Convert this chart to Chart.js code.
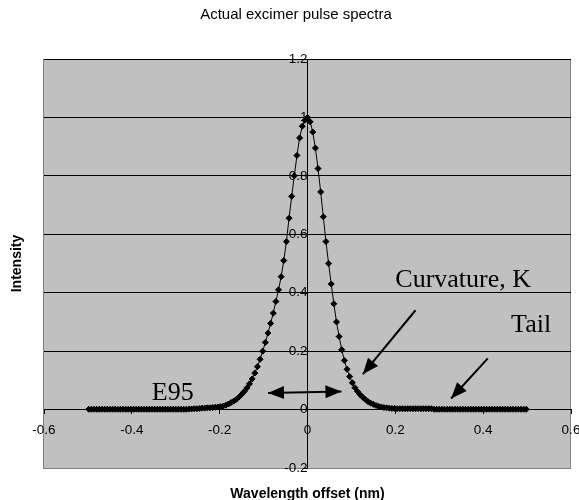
<!DOCTYPE html>
<html>
<head>
<meta charset="utf-8">
<script src="https://cdn.jsdelivr.net/npm/chart.js@4.4.0/dist/chart.umd.min.js"></script>
<style>
  html, body { margin: 0; padding: 0; background: #fff; }
  #wrap { width: 579px; height: 500px; }
</style>
</head>
<body>
<div id="wrap"><canvas id="spectraChart" width="579" height="500"></canvas></div>
<script>
// wavelength offset (nm)
const offsets = [
  -0.498, -0.492, -0.486, -0.480, -0.474, -0.468, -0.462, -0.456, -0.450, -0.444,
  -0.438, -0.432, -0.426, -0.420, -0.414, -0.408, -0.402, -0.396, -0.390, -0.384,
  -0.378, -0.372, -0.366, -0.360, -0.354, -0.348, -0.342, -0.336, -0.330, -0.324,
  -0.318, -0.312, -0.306, -0.300, -0.294, -0.288, -0.282, -0.276, -0.270, -0.264,
  -0.258, -0.252, -0.246, -0.240, -0.234, -0.228, -0.222, -0.216, -0.210, -0.204,
  -0.198, -0.192, -0.186, -0.180, -0.174, -0.168, -0.162, -0.156, -0.150, -0.144,
  -0.138, -0.132, -0.126, -0.120, -0.114, -0.108, -0.102, -0.096, -0.090, -0.084,
  -0.078, -0.072, -0.066, -0.060, -0.054, -0.048, -0.042, -0.036, -0.030, -0.024,
  -0.018, -0.012, -0.006, 0, 0.006, 0.012, 0.018, 0.024, 0.030, 0.036,
  0.042, 0.048, 0.054, 0.060, 0.066, 0.072, 0.078, 0.084, 0.090, 0.096,
  0.102, 0.108, 0.114, 0.120, 0.126, 0.132, 0.138, 0.144, 0.150, 0.156,
  0.162, 0.168, 0.174, 0.180, 0.186, 0.192, 0.198, 0.204, 0.210, 0.216,
  0.222, 0.228, 0.234, 0.240, 0.246, 0.252, 0.258, 0.264, 0.270, 0.276,
  0.282, 0.288, 0.294, 0.300, 0.306, 0.312, 0.318, 0.324, 0.330, 0.336,
  0.342, 0.348, 0.354, 0.360, 0.366, 0.372, 0.378, 0.384, 0.390, 0.396,
  0.402, 0.408, 0.414, 0.420, 0.426, 0.432, 0.438, 0.444, 0.450, 0.456,
  0.462, 0.468, 0.474, 0.480, 0.486, 0.492, 0.498
];

// intensity for each offset above
const intensity = [
  0.001, 0.001, 0.001, 0.001, 0.001, 0.001, 0.001, 0.001, 0.001, 0.001,
  0.001, 0.001, 0.001, 0.001, 0.001, 0.001, 0.001, 0.001, 0.001, 0.001,
  0.001, 0.001, 0.001, 0.001, 0.001, 0.001, 0.001, 0.001, 0.001, 0.001,
  0.001, 0.001, 0.001, 0.001, 0.001, 0.001, 0.001, 0.001, 0.002, 0.002,
  0.003, 0.003, 0.004, 0.005, 0.005, 0.006, 0.006, 0.007, 0.008, 0.009,
  0.010, 0.012, 0.015, 0.019, 0.024, 0.029, 0.035, 0.043, 0.052, 0.062,
  0.074, 0.088, 0.105, 0.125, 0.147, 0.172, 0.200, 0.230, 0.262, 0.295,
  0.330, 0.370, 0.410, 0.455, 0.510, 0.575, 0.655, 0.730, 0.800, 0.870,
  0.930, 0.970, 0.990, 1.000, 0.985, 0.950, 0.895, 0.825, 0.745, 0.660,
  0.575, 0.500, 0.430, 0.362, 0.300, 0.250, 0.205, 0.168, 0.138, 0.113,
  0.092, 0.075, 0.062, 0.051, 0.042, 0.034, 0.027, 0.022, 0.018, 0.014,
  0.011, 0.009, 0.007, 0.006, 0.005, 0.004, 0.004, 0.003, 0.003, 0.003,
  0.003, 0.003, 0.003, 0.003, 0.003, 0.003, 0.003, 0.003, 0.003, 0.003,
  0.003, 0.001, 0.001, 0.001, 0.001, 0.001, 0.001, 0.001, 0.001, 0.001,
  0.001, 0.001, 0.001, 0.001, 0.001, 0.001, 0.001, 0.001, 0.001, 0.001,
  0.001, 0.001, 0.001, 0.001, 0.001, 0.001, 0.001, 0.001, 0.001, 0.001,
  0.001, 0.001, 0.001, 0.001, 0.001, 0.001, 0.001
];

const xTicks = [-0.6, -0.4, -0.2, 0, 0.2, 0.4, 0.6];
const xTickLabels = ["-0.6", "-0.4", "-0.2", "0", "0.2", "0.4", "0.6"];
const yTicks = [-0.2, 0, 0.2, 0.4, 0.6, 0.8, 1, 1.2];
const yTickLabels = ["-0.2", "0", "0.2", "0.4", "0.6", "0.8", "1", "1.2"];

const chartTitle = "Actual excimer pulse spectra";
const xTitle = "Wavelength offset (nm)";
const yTitle = "Intensity";

// callouts drawn on the plot, in data units
const notes = [
  { text: "Curvature, K", x: 0.200, y: 0.420 },
  { text: "Tail", x: 0.4636, y: 0.264 },
  { text: "E95", x: -0.3545, y: 0.034 }
];
const arrows = [
  { from: [0.246, 0.340], to: [0.126, 0.121], both: false },
  { from: [0.4105, 0.175], to: [0.327, 0.038], both: false },
  { from: [-0.090, 0.057], to: [0.0773, 0.062], both: true }
];

const sans = "'Liberation Sans', Arial, sans-serif";
const serif = "'Liberation Serif', 'Times New Roman', serif";

function drawHead(ctx, x1, y1, x2, y2) {
  // filled head pointing at (x2, y2)
  const ang = Math.atan2(y2 - y1, x2 - x1);
  const len = 16, half = 6.5;
  ctx.beginPath();
  ctx.moveTo(x2, y2);
  ctx.lineTo(x2 - len * Math.cos(ang) + half * Math.sin(ang), y2 - len * Math.sin(ang) - half * Math.cos(ang));
  ctx.lineTo(x2 - len * Math.cos(ang) - half * Math.sin(ang), y2 - len * Math.sin(ang) + half * Math.cos(ang));
  ctx.closePath();
  ctx.fill();
}

// axes sit inside the plot, so keep their labels from shrinking it
function noPad(s) {
  s.paddingLeft = 0; s.paddingRight = 0; s.paddingTop = 0; s.paddingBottom = 0;
}

const plotFrame = {
  id: "plotFrame",
  beforeDraw(chart) {
    const { ctx, chartArea: a } = chart;
    ctx.save();
    ctx.fillStyle = "#fff";
    ctx.fillRect(0, 0, chart.width, chart.height);
    ctx.fillStyle = "#c0c0c0";
    ctx.fillRect(a.left, a.top, a.right - a.left, a.bottom - a.top);
    ctx.strokeStyle = "#808080";
    ctx.lineWidth = 1;
    ctx.strokeRect(Math.round(a.left) - 0.5, Math.round(a.top) + 0.5, Math.round(a.right - a.left), Math.round(a.bottom - a.top));
    ctx.restore();
  },
  afterDraw(chart) {
    const { ctx, chartArea: a, scales } = chart;
    const sx = scales.x, sy = scales.y;
    ctx.save();
    ctx.fillStyle = "#000";

    // titles
    ctx.font = "15px " + sans;
    ctx.textAlign = "center";
    ctx.textBaseline = "alphabetic";
    ctx.fillText(chartTitle, 296, 19);

    ctx.font = "bold 14px " + sans;
    ctx.fillText(xTitle, (a.left + a.right) / 2, 498);

    ctx.save();
    ctx.translate(21, (a.top + a.bottom) / 2);
    ctx.rotate(-Math.PI / 2);
    ctx.fillText(yTitle, 0, 0);
    ctx.restore();

    // callout text
    ctx.font = "26px " + serif;
    ctx.textAlign = "left";
    notes.forEach(n => {
      ctx.fillText(n.text, sx.getPixelForValue(n.x), sy.getPixelForValue(n.y));
    });

    // arrows
    ctx.strokeStyle = "#000";
    ctx.lineWidth = 2;
    arrows.forEach(ar => {
      const x1 = sx.getPixelForValue(ar.from[0]), y1 = sy.getPixelForValue(ar.from[1]);
      const x2 = sx.getPixelForValue(ar.to[0]), y2 = sy.getPixelForValue(ar.to[1]);
      ctx.beginPath();
      ctx.moveTo(x1, y1);
      ctx.lineTo(x2, y2);
      ctx.stroke();
      drawHead(ctx, x1, y1, x2, y2);
      if (ar.both) drawHead(ctx, x2, y2, x1, y1);
    });
    ctx.restore();
  }
};

const ctx = document.getElementById("spectraChart").getContext("2d");
const spectraChart = new Chart(ctx, {
  type: "line",
  data: {
    datasets: [{
      label: "Intensity",
      data: offsets.map((x, i) => ({ x: x, y: intensity[i] })),
      borderColor: "#000",
      borderWidth: 1,
      backgroundColor: "#000",
      pointStyle: "rectRot",
      pointRadius: 3,
      pointBorderWidth: 1,
      pointBackgroundColor: "#000",
      pointBorderColor: "#000",
      tension: 0,
      fill: false
    }]
  },
  options: {
    responsive: false,
    animation: false,
    devicePixelRatio: 1,
    layout: { padding: { left: 44, right: 8, top: 59, bottom: 32 } },
    plugins: {
      legend: { display: false },
      title: { display: false },
      tooltip: { enabled: false }
    },
    scales: {
      x: {
        type: "linear",
        position: { y: 0 },
        min: -0.6,
        max: 0.6,
        afterBuildTicks: s => { s.ticks = xTicks.map(v => ({ value: v })); },
        afterFit: noPad,
        ticks: {
          autoSkip: false,
          maxRotation: 0,
          padding: 9,
          color: "#000",
          font: { family: sans, size: 13.5 },
          callback: (v, i) => xTickLabels[i]
        },
        grid: { display: true, drawOnChartArea: false, drawTicks: true, tickLength: 4, tickColor: "#000" },
        border: { display: true, color: "#000", width: 1 }
      },
      y: {
        type: "linear",
        position: { x: 0 },
        min: -0.2,
        max: 1.2,
        afterBuildTicks: s => { s.ticks = yTicks.map(v => ({ value: v })); },
        afterFit: noPad,
        ticks: {
          autoSkip: false,
          padding: 5,
          color: "#000",
          font: { family: sans, size: 13.5 },
          callback: (v, i) => yTickLabels[i]
        },
        grid: {
          color: c => (c.tick && c.tick.value < -0.19) ? "#808080" : "#000",
          lineWidth: 1,
          drawTicks: true,
          tickLength: 4,
          tickColor: "#000"
        },
        border: { display: true, color: "#000", width: 1 }
      }
    }
  },
  plugins: [plotFrame]
});
</script>
</body>
</html>
